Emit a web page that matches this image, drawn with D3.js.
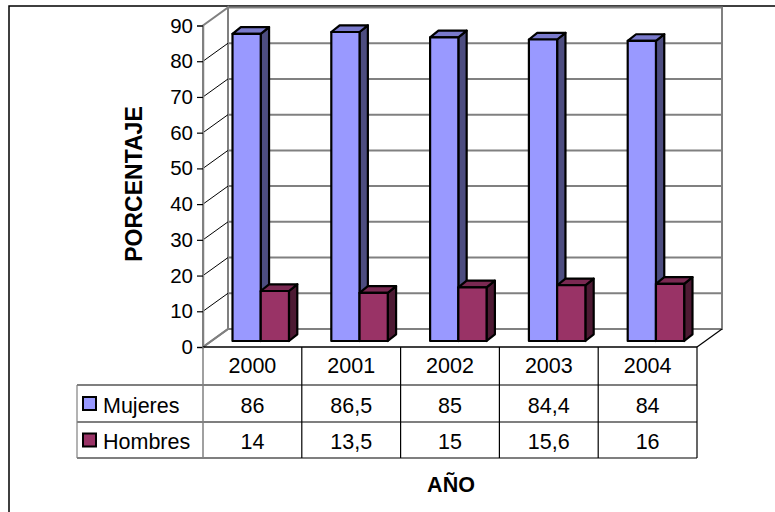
<!DOCTYPE html>
<html><head><meta charset="utf-8">
<script src="https://cdn.jsdelivr.net/npm/d3@7"></script>
<style>body{margin:0;background:#fff}svg{display:block}text{font-family:"Liberation Sans",Arial,sans-serif}</style>
</head><body><svg id="c" width="775" height="512"></svg>
<script>
const categories = ["2000","2001","2002","2003","2004"];
const seriesNames = ["Mujeres","Hombres"];
const mujeres = [86, 86.5, 85, 84.4, 84];
const hombres = [14, 13.5, 15, 15.6, 16];
const mujeresLabels = ["86","86,5","85","84,4","84"];
const hombresLabels = ["14","13,5","15","15,6","16"];
const yTicks = [0,10,20,30,40,50,60,70,80,90];

const seriesValues = [mujeres, hombres];
const seriesLabels = [mujeresLabels, hombresLabels];
const colors = {
  Mujeres: {front:"#9999FF", top:"#7A7ACC", side:"#4D4D80"},
  Hombres: {front:"#993366", top:"#7A2952", side:"#4D1A33"}
};

const svg = d3.select("#c");
const X0 = 203, X1 = 697, Y0 = 347, Y90 = 25.5;
const DX = 25, DY = -18;

const x = d3.scaleBand().domain(categories).range([X0, X1]).padding(0);
const bw = x.bandwidth();
const xs = d3.scaleBand().domain(seriesNames).range([bw*0.75/3.5, bw*2.75/3.5]).padding(0);
const y = d3.scaleLinear().domain([0, 90]).range([Y0, Y90]);

// outer border
svg.append("rect").attr("x",9).attr("y",6).attr("width",800).attr("height",520)
  .attr("fill","#fff").attr("stroke","#000").attr("stroke-width",1.5);

// walls
const gWalls = svg.append("g");
gWalls.append("path")
  .attr("d",`M${X0},${y(0)}L${X0},${y(90)}L${X0+DX},${y(90)+DY}L${X0+DX},${y(0)+DY}Z`)
  .attr("fill","#fff").attr("stroke","#808080").attr("stroke-width",2);
gWalls.append("rect").attr("x",X0+DX).attr("y",y(90)+DY)
  .attr("width",X1-X0).attr("height",y(0)-y(90))
  .attr("fill","#fff").attr("stroke","#808080").attr("stroke-width",2);
// floor
gWalls.append("path")
  .attr("d",`M${X0},${y(0)}L${X0+DX},${y(0)+DY}L${X1+DX},${y(0)+DY}`)
  .attr("fill","none").attr("stroke","#808080").attr("stroke-width",2);
gWalls.append("path")
  .attr("d",`M${X1},${y(0)}L${X1+DX},${y(0)+DY}`)
  .attr("fill","none").attr("stroke","#000").attr("stroke-width",1.2);

// gridlines
const inner = yTicks.filter(v => v > 0 && v < 90);
gWalls.selectAll(".gb").data(inner).join("line")
  .attr("x1",X0+DX).attr("x2",X1+DX)
  .attr("y1",d=>y(d)+DY).attr("y2",d=>y(d)+DY)
  .attr("stroke","#808080").attr("stroke-width",2);
gWalls.selectAll(".gs").data(inner).join("line")
  .attr("x1",X0).attr("x2",X0+DX)
  .attr("y1",d=>y(d)).attr("y2",d=>y(d)+DY)
  .attr("stroke","#000").attr("stroke-width",1);

// axis
const axis = d3.axisLeft(y).tickValues(yTicks).tickSize(6).tickPadding(4).tickFormat(d3.format("d"));
const ga = svg.append("g").attr("transform",`translate(${X0},0)`).call(axis);
ga.select(".domain").attr("stroke","#808080").attr("stroke-width",1.5);
ga.selectAll(".tick line").attr("stroke","#000").attr("stroke-width",1.2);
ga.selectAll(".tick text").attr("font-size",20.5).attr("font-family","Liberation Sans, Arial, sans-serif").attr("fill","#000");

// bars
const fx = DX/3, fy = DY/3, bdx = DX/3, bdy = DY/3 - 0.7;
const gBars = svg.append("g").attr("stroke","#000").attr("stroke-width",2.2).attr("stroke-linejoin","round");
categories.forEach((c, i) => {
  seriesNames.forEach((s, k) => {
    const v = seriesValues[k][i];
    const xl = x(c) + xs(s) + fx, xr = xl + xs.bandwidth();
    const yb = y(0) + fy, yt = y(v) + fy;
    const col = colors[s];
    gBars.append("path").attr("fill",col.side)
      .attr("d",`M${xr},${yb}L${xr},${yt}L${xr+bdx},${yt+bdy}L${xr+bdx},${yb+bdy}Z`);
    gBars.append("path").attr("fill",col.top)
      .attr("d",`M${xl},${yt}L${xl+bdx},${yt+bdy}L${xr+bdx},${yt+bdy}L${xr},${yt}Z`);
    gBars.append("rect").attr("fill",col.front)
      .attr("x",xl).attr("y",yt).attr("width",xr-xl).attr("height",yb-yt);
  });
});

// data table
const TL = 77, R0 = 347, R1 = 385, R2 = 422, R3 = 458;
const gT = svg.append("g");
gT.append("line").attr("x1",X0).attr("x2",X1).attr("y1",R0).attr("y2",R0).attr("stroke","#000").attr("stroke-width",1.5);
[R1,R2,R3].forEach(r => gT.append("line").attr("x1",TL).attr("x2",X1).attr("y1",r).attr("y2",r).attr("stroke","#000").attr("stroke-width",1.2));
gT.append("line").attr("x1",TL).attr("x2",TL).attr("y1",R1).attr("y2",R3).attr("stroke","#808080").attr("stroke-width",1.2);
gT.append("line").attr("x1",X0).attr("x2",X0).attr("y1",R0).attr("y2",R3).attr("stroke","#808080").attr("stroke-width",1.5);
categories.forEach((c,i) => {
  gT.append("line").attr("x1",x(c)+bw).attr("x2",x(c)+bw).attr("y1",R0).attr("y2",R3).attr("stroke","#000").attr("stroke-width",1.2);
});
const fs = 21.5;
gT.selectAll(".cat").data(categories).join("text")
  .attr("x",d=>x(d)+bw/2).attr("y",373).attr("text-anchor","middle").attr("font-size",fs).text(d=>d);
[[R1,R2,413],[R2,R3,449]].forEach(([a,b,base],k) => {
  gT.selectAll(".v"+k).data(categories).join("text")
    .attr("x",d=>x(d)+bw/2).attr("y",base).attr("text-anchor","middle").attr("font-size",fs)
    .text((d,i)=>seriesLabels[k][i]);
  const s = seriesNames[k];
  gT.append("rect").attr("x",83).attr("y",a+(b-a)/2-6.5).attr("width",13).attr("height",13)
    .attr("fill",colors[s].front).attr("stroke","#000").attr("stroke-width",2);
  gT.append("text").attr("x",103).attr("y",base).attr("font-size",fs).text(s);
});

// titles
svg.append("text").attr("x",451).attr("y",492).attr("text-anchor","middle")
  .attr("font-size",21.5).attr("font-weight","bold").text("AÑO");
svg.append("text").attr("transform","translate(142,184) rotate(-90)").attr("text-anchor","middle")
  .attr("font-size",23).attr("font-weight","bold").text("PORCENTAJE");
</script></body></html>
